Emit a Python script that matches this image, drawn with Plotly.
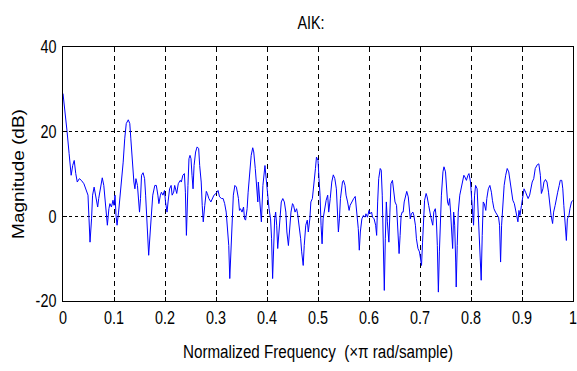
import plotly.graph_objects as go

# Normalized frequency (x pi rad/sample) and magnitude (dB)
freq_a = [0.000, 0.002, 0.005, 0.008, 0.012, 0.016, 0.019, 0.022, 0.025, 0.028,
          0.032, 0.036, 0.041, 0.045, 0.049, 0.051, 0.053, 0.056, 0.058, 0.061,
          0.064, 0.068, 0.070, 0.074, 0.077, 0.080, 0.083, 0.085, 0.087, 0.090,
          0.092, 0.095, 0.098, 0.100, 0.102, 0.104, 0.106, 0.109, 0.112, 0.115,
          0.118, 0.121, 0.124, 0.128, 0.131, 0.133, 0.136, 0.139, 0.141, 0.143,
          0.146, 0.148, 0.150, 0.152, 0.154, 0.157, 0.160, 0.162, 0.164, 0.166,
          0.168, 0.171, 0.173, 0.176, 0.180, 0.183, 0.186, 0.188, 0.191, 0.193,
          0.196, 0.199, 0.201, 0.204, 0.206, 0.209, 0.212, 0.214, 0.217, 0.219,
          0.223, 0.226, 0.230, 0.232, 0.235, 0.238, 0.240, 0.242, 0.245, 0.247,
          0.249]
mag_a = [29.0, 27.0, 23.9, 20.0, 14.8, 9.7, 12.0, 13.2, 10.1, 8.1,
         8.9, 8.5, 7.7, 6.5, 5.0, -0.6, -6.1, -0.6, 5.0, 6.9,
         5.0, 2.2, 4.2, 7.3, 9.1, 7.3, 3.8, 0.2, -2.1, 1.8,
         3.0, 2.2, 3.8, 2.6, 5.0, 0.2, -2.1, 1.0, 5.0, 7.3,
         12.8, 18.3, 21.9, 22.8, 21.9, 18.3, 12.8, 8.1, 6.5, 8.9,
         7.3, 4.2, 1.0, 4.2, 9.7, 10.3, 8.9, 5.0, 1.0, -3.7,
         -9.2, -3.7, 1.0, 5.0, 7.3, 7.3, 5.0, 3.0, 5.0, 5.7,
         5.0, 6.1, 3.4, 1.0, 3.4, 6.5, 7.3, 5.0, 5.7, 7.3,
         5.4, 7.7, 8.5, 8.1, 9.7, 10.1, 5.7, -4.5, 7.3, 13.6,
         14.4]

freq_b = [0.251, 0.253, 0.255, 0.257, 0.260, 0.263, 0.266, 0.268, 0.271, 0.273,
          0.275, 0.278, 0.281, 0.283, 0.286, 0.290, 0.293, 0.296, 0.300, 0.304,
          0.307, 0.311, 0.314, 0.317, 0.320, 0.322, 0.325, 0.327, 0.329, 0.331,
          0.334, 0.337, 0.340, 0.344, 0.346, 0.348, 0.351, 0.354, 0.356, 0.358,
          0.361, 0.363, 0.367, 0.369, 0.372, 0.374, 0.377, 0.380, 0.382, 0.383,
          0.385, 0.387, 0.389, 0.392, 0.395, 0.396, 0.399, 0.402, 0.404, 0.407,
          0.409, 0.411, 0.413, 0.415, 0.417, 0.419, 0.421, 0.423, 0.425, 0.428,
          0.431, 0.434, 0.437, 0.439, 0.442, 0.445, 0.447, 0.450, 0.452, 0.455,
          0.458, 0.460, 0.463, 0.466, 0.468, 0.471, 0.473, 0.476, 0.479, 0.481,
          0.484, 0.486, 0.489, 0.492, 0.495]
mag_b = [13.6, 9.7, 6.5, 12.0, 15.2, 16.4, 16.0, 12.0, 8.1, 2.6,
         -1.3, 2.6, 5.9, 5.4, 4.2, 3.4, 4.2, 5.0, 5.4, 6.1,
         4.6, 4.2, 4.2, 3.0, 1.0, -2.9, -6.9, -14.7, -8.4, -0.6,
         5.0, 7.3, 6.9, 4.2, 1.4, 1.8, 1.0, 2.2, -0.6, -0.9,
         1.8, 5.7, 10.5, 14.4, 16.2, 15.2, 11.3, 5.7, 3.4, 8.1,
         5.0, 1.0, -1.3, 7.3, 11.3, 12.0, 8.1, 3.4, 1.8, -0.6,
         -5.3, -14.7, -6.9, -0.6, 1.0, -2.1, -7.6, -3.7, 0.2, 3.4,
         4.2, 3.4, 1.0, -3.7, -6.9, -2.9, 1.0, 3.0, 2.6, 1.0,
         1.8, 0.6, -2.1, -5.3, -8.4, -11.6, -6.9, -2.1, -0.9, -3.7,
         -0.6, 3.4, 4.2, 7.3, 11.3]

freq_c = [0.497, 0.500, 0.502, 0.504, 0.506, 0.508, 0.510, 0.512, 0.514, 0.516,
          0.519, 0.521, 0.524, 0.527, 0.530, 0.533, 0.536, 0.538, 0.540, 0.542,
          0.544, 0.548, 0.550, 0.553, 0.555, 0.558, 0.561, 0.563, 0.566, 0.570,
          0.573, 0.576, 0.579, 0.581, 0.583, 0.586, 0.589, 0.592, 0.594, 0.597,
          0.600, 0.602, 0.605, 0.607, 0.610, 0.613, 0.615, 0.617, 0.619, 0.622,
          0.624, 0.626, 0.628, 0.630, 0.632, 0.634, 0.636, 0.639, 0.641, 0.643,
          0.646, 0.648, 0.651, 0.654, 0.656, 0.659, 0.661, 0.663, 0.665, 0.667,
          0.669, 0.672, 0.674, 0.677, 0.679, 0.681, 0.683, 0.686, 0.688, 0.691,
          0.693, 0.696, 0.699, 0.701, 0.703, 0.705, 0.707, 0.709, 0.712, 0.714,
          0.717, 0.719, 0.722, 0.725, 0.727, 0.730, 0.732, 0.734, 0.736, 0.738,
          0.740, 0.742, 0.745]
mag_c = [14.0, 13.2, 8.9, 5.0, -2.1, -6.5, -0.6, 1.0, 2.6, 3.8,
         5.0, 1.0, 4.2, 8.1, 9.8, 8.9, 6.5, 0.2, -3.7, -0.6,
         4.2, 8.1, 8.5, 7.3, 5.0, 3.4, 1.4, 2.6, 3.4, 4.2,
         4.7, 1.0, -2.9, -8.0, -3.7, -0.6, 0.2, -0.2, 0.6, -0.2,
         1.4, 0.6, 1.0, -0.2, -0.6, -2.1, -4.5, 3.4, 8.9, 11.3,
         10.9, 5.0, -7.6, -17.5, -5.3, 3.4, -1.3, -6.1, 1.0, 7.7,
         8.5, 6.5, 3.4, 2.6, -2.1, -8.8, -4.5, 0.2, 1.0, 1.0,
         3.4, 5.0, 5.9, 4.6, 1.8, -0.6, 0.6, 1.0, 0.2, -2.1,
         -5.3, -7.6, -8.4, -10.0, -11.6, -6.1, -0.6, 3.8, 5.4, 4.6,
         2.6, 1.0, -0.6, -2.1, 1.0, 1.8, -0.6, -6.9, -17.9, -8.4,
         0.2, 5.0, 10.5]

freq_d = [0.747, 0.750, 0.752, 0.754, 0.756, 0.758, 0.760, 0.762, 0.764, 0.766,
          0.768, 0.770, 0.771, 0.773, 0.775, 0.778, 0.781, 0.783, 0.786, 0.788,
          0.791, 0.794, 0.796, 0.799, 0.801, 0.803, 0.805, 0.807, 0.809, 0.812,
          0.814, 0.816, 0.818, 0.820, 0.822, 0.824, 0.826, 0.829, 0.831, 0.834,
          0.837, 0.840, 0.842, 0.845, 0.848, 0.852, 0.854, 0.856, 0.858, 0.860,
          0.863, 0.865, 0.868, 0.871, 0.874, 0.877, 0.880, 0.882, 0.885, 0.887,
          0.890, 0.892, 0.894, 0.896, 0.899, 0.902, 0.904, 0.907, 0.910, 0.912,
          0.915, 0.917, 0.920, 0.923, 0.926, 0.930, 0.933, 0.936, 0.938, 0.941,
          0.943, 0.946, 0.949, 0.952, 0.954, 0.957, 0.960, 0.962, 0.965, 0.967,
          0.970, 0.973, 0.975, 0.978, 0.980, 0.982, 0.984, 0.987, 0.989, 0.992,
          0.994, 0.997, 1.000]
mag_d = [11.7, 10.5, 6.5, 3.4, 2.6, 4.2, 1.0, -2.9, -7.6, 1.0,
         -2.1, -10.8, -16.7, -6.9, 1.0, 5.0, 6.5, 8.1, 9.7, 9.3,
         8.5, 9.7, 10.1, 8.1, 5.0, 1.0, -2.1, 5.0, 7.3, 6.5,
         1.0, -4.5, -10.0, -15.1, -4.5, 3.4, 3.0, 1.4, 4.2, 6.5,
         7.3, 5.7, 3.8, 1.8, 1.0, 0.2, -0.2, -2.1, -10.8, -2.1,
         3.4, 7.3, 9.7, 11.3, 10.5, 8.1, 5.7, 3.8, 3.0, 1.8,
         -0.2, -1.3, 1.4, 0.2, 2.6, 5.7, 6.5, 5.7, 5.0, 4.2,
         5.0, 6.5, 8.1, 8.9, 11.3, 12.2, 12.4, 9.7, 5.4, 6.5,
         8.1, 8.7, 8.1, 5.7, 2.6, 0.2, -1.7, 1.0, 2.6, 4.2,
         5.7, 7.3, 8.5, 8.5, 6.5, 2.6, -1.3, -5.7, -0.6, 0.2,
         1.8, 3.4, 3.8]

freq = freq_a + freq_b + freq_c + freq_d
mag = mag_a + mag_b + mag_c + mag_d

x_ticks = [0, 0.1, 0.2, 0.3, 0.4, 0.5, 0.6, 0.7, 0.8, 0.9, 1]
x_tick_text = ["0", "0.1", "0.2", "0.3", "0.4", "0.5", "0.6", "0.7", "0.8", "0.9", "1"]
y_ticks = [-20, 0, 20, 40]
y_tick_text = ["-20", "0", "20", "40"]

FONT = "Liberation Sans, Arial, sans-serif"

fig = go.Figure()
fig.add_trace(go.Scatter(x=freq, y=mag, mode="lines",
                         line=dict(color="#0000ff", width=1), showlegend=False))

fig.update_layout(
    width=577, height=371,
    margin=dict(l=63, r=4, t=47, b=70, autoexpand=False),
    paper_bgcolor="white", plot_bgcolor="white",
    title=dict(text="AIK:", x=311 / 577, xanchor="center",
               y=1 - 23 / 371, yanchor="middle",
               font=dict(family=FONT, size=18, color="black")),
)
fig.update_xaxes(
    range=[0, 1], tickvals=x_ticks, ticktext=x_tick_text,
    showline=True, linecolor="black", linewidth=1, mirror="ticks",
    ticks="inside", ticklen=4, tickcolor="black",
    showgrid=True, gridcolor="black", gridwidth=1, griddash="5px,4px",
    zeroline=False, ticklabeloverflow="allow", automargin=False,
    tickfont=dict(family=FONT, size=18, color="black"),
    title=dict(text="Normalized Frequency  (\u00d7\u03c0 rad/sample)",
               font=dict(family=FONT, size=19, color="black"), standoff=18),
)
fig.update_yaxes(
    range=[-20, 40], tickvals=y_ticks, ticktext=y_tick_text,
    showline=True, linecolor="black", linewidth=1, mirror="ticks",
    ticks="inside", ticklen=4, tickcolor="black",
    showgrid=True, gridcolor="black", gridwidth=1, griddash="3px,3px",
    zeroline=False, ticklabelstandoff=2, automargin=False,
    tickfont=dict(family=FONT, size=18, color="black"),
    title=dict(text="Magnitude (dB)",
               font=dict(family=FONT, size=19, color="black"),
               standoff=0),
)

# The reference text is horizontally condensed; squeeze glyphs around their anchors.
squeeze_js = """
var gd = document.getElementById('{plot_id}');
function sq(sel, sx, sy) {
  gd.querySelectorAll(sel).forEach(function (t) {
    var cx = parseFloat(t.getAttribute('x')) || 0;
    var cy = parseFloat(t.getAttribute('y')) || 0;
    var tr = t.getAttribute('transform') || '';
    t.setAttribute('transform', tr + ' translate(' + cx + ',' + cy + ') scale(' + sx + ',' + sy + ') translate(' + (-cx) + ',' + (-cy) + ')');
  });
}
sq('.xtick text', 0.8, 1);
sq('.ytick text', 0.8, 1);
sq('.g-xtitle text', 0.8, 1);
sq('.g-gtitle text', 0.8, 1);
sq('.g-ytitle text', 1, 0.85);
"""

fig.write_html("out.html", post_script=squeeze_js)
